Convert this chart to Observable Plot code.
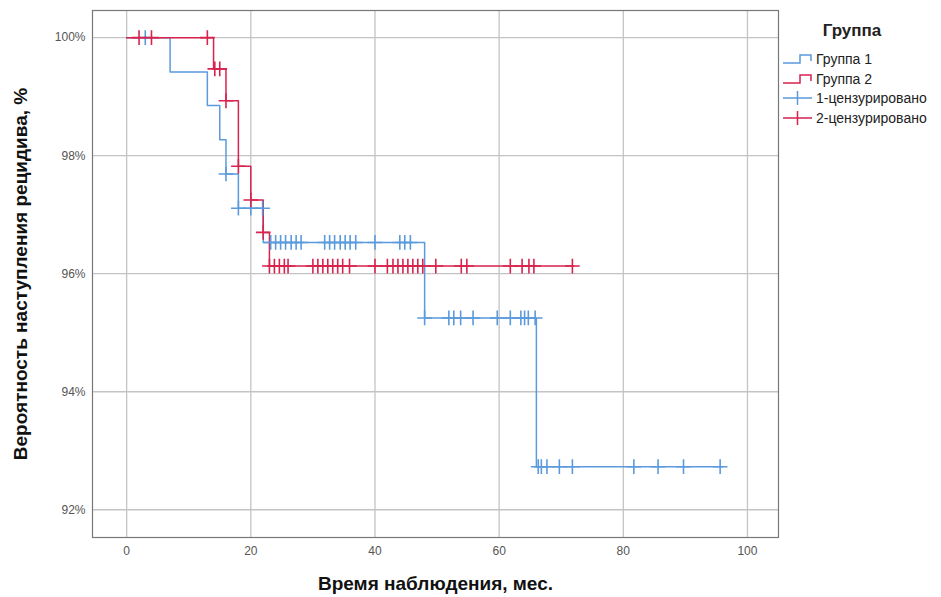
<!DOCTYPE html>
<html><head><meta charset="utf-8">
<script src="https://cdn.jsdelivr.net/npm/d3@7"></script>
<script src="https://cdn.jsdelivr.net/npm/@observablehq/plot@0.6"></script>
<style>
body{margin:0;background:#fff;font-family:"Liberation Sans",Arial,sans-serif;}
#wrap{position:relative;width:941px;height:597px;}
#legend{position:absolute;left:782px;top:21px;width:159px;color:#222;}
#legend .title{font-weight:bold;font-size:17px;text-align:center;width:140px;margin-bottom:8px;}
#legend .item{display:flex;align-items:center;height:19.7px;font-size:14px;}
#legend svg{margin-right:3px;}
</style></head><body>
<div id="wrap"><div id="chart"></div><div id="legend"></div></div>
<script>
const legendTitle = "Группа";
const groupNames = ["Группа 1", "Группа 2"];
const censorNames = ["1-цензурировано", "2-цензурировано"];
const groupColors = ["#5b9bdc", "#d8234f"];
const xTitle = "Время наблюдения, мес.";
const yTitle = "Вероятность наступления рецидива, %";
const xTicks = [0, 20, 40, 60, 80, 100];
const yTicks = [92, 94, 96, 98, 100];

// Group 1 survival steps
const g1Times = [0, 7, 13, 15, 16, 18, 22, 48, 66, 96];
const g1Surv  = [100, 99.42, 98.85, 98.27, 97.69, 97.11, 96.53, 95.25, 92.73, 92.73];
// Group 2 survival steps
const g2Times = [0, 14, 16, 18, 20, 22, 23, 72];
const g2Surv  = [100, 99.47, 98.93, 97.82, 97.25, 96.70, 96.13, 96.13];

// Censored times
const g1Censor = [3, 16, 18, 20,
  21.9, 23.2, 24, 24.8, 25.6, 26.5, 27.3, 28.1,
  31.9, 32.7, 33.5, 34.4, 35.2, 36, 36.9, 40, 44, 44.8, 45.7,
  48, 51.9, 52.7, 53.8, 55.8, 59.7, 61.8, 63.5, 64.1, 64.7,
  65.8, 66.3, 66.8, 67.7, 69.7, 71.8, 81.7, 85.6, 89.7, 95.6];
const g2Censor = [2, 4, 13, 14.2, 15, 16, 18, 20, 22,
  23, 23.8, 24.6, 25.4, 26,
  30, 30.8, 31.6, 32.4, 33.2, 34, 34.8, 35.9, 40,
  42, 42.9, 43.7, 44.5, 45.3, 46.1, 46.9, 47.7, 49.8, 53.9, 54.8,
  61.8, 63.7, 64.8, 65.6, 71.8];

function stepsOf(times, surv, g) { return times.map((t, i) => ({t, s: surv[i], g})); }
function survAt(times, surv, t) { let s = surv[0]; for (let i = 0; i < times.length; i++) if (times[i] <= t) s = surv[i]; return s; }

const lines = [...stepsOf(g1Times, g1Surv, groupNames[0]), ...stepsOf(g2Times, g2Surv, groupNames[1])];
const censors = [
  ...g1Censor.map(t => ({t, s: survAt(g1Times, g1Surv, t), g: groupNames[0]})),
  ...g2Censor.map(t => ({t, s: survAt(g2Times, g2Surv, t), g: groupNames[1]}))
];

const chart = Plot.plot({
  width: 941, height: 597,
  marginLeft: 92, marginRight: 163, marginTop: 10, marginBottom: 60,
  style: {fontFamily: "Liberation Sans, Arial, sans-serif"},
  x: {domain: [-5.5, 105]},
  y: {domain: [91.53, 100.46]},
  color: {domain: groupNames, range: groupColors},
  marks: [
    Plot.gridX(xTicks, {stroke: "#c4c4c4", strokeOpacity: 1, strokeWidth: 1.3}),
    Plot.gridY(yTicks, {stroke: "#c4c4c4", strokeOpacity: 1, strokeWidth: 1.3}),
    Plot.frame({stroke: "#777", strokeWidth: 1.2}),
    Plot.axisX({ticks: xTicks, tickSize: 0, tickPadding: 9, fontSize: 12, fill: "#555", label: null}),
    Plot.axisY({ticks: yTicks, tickSize: 0, tickPadding: 7, fontSize: 12, fill: "#555", label: null, tickFormat: d => d + "%"}),
    Plot.line(lines, {x: "t", y: "s", z: "g", stroke: "g", curve: "step-after", strokeWidth: 1.5}),
    Plot.dot(censors, {x: "t", y: "s", stroke: "g", symbol: "plus", r: 4.8, strokeWidth: 1.6}),
    Plot.text([xTitle], {frameAnchor: "bottom", dy: 52, text: d => d, fontSize: 19, fontWeight: "bold", fill: "#111"}),
    Plot.text([yTitle], {frameAnchor: "left", textAnchor: "middle", lineAnchor: "middle", dx: -72, rotate: -90, text: d => d, fontSize: 19, fontWeight: "bold", fill: "#111"})
  ]
});
document.getElementById("chart").appendChild(chart);

// Legend
const lg = document.getElementById("legend");
const t = document.createElement("div"); t.className = "title"; t.textContent = legendTitle; lg.appendChild(t);
groupNames.forEach((n, i) => {
  const d = document.createElement("div"); d.className = "item";
  d.innerHTML = `<svg width="31" height="14"><path d="M1,11H18V3H29V9" fill="none" stroke="${groupColors[i]}" stroke-width="1.5"/></svg><span>${n}</span>`;
  lg.appendChild(d);
});
censorNames.forEach((n, i) => {
  const d = document.createElement("div"); d.className = "item";
  d.innerHTML = `<svg width="31" height="16"><path d="M1,8H30M15.5,1V15" fill="none" stroke="${groupColors[i]}" stroke-width="1.5"/></svg><span>${n}</span>`;
  lg.appendChild(d);
});
</script>
</body></html>
